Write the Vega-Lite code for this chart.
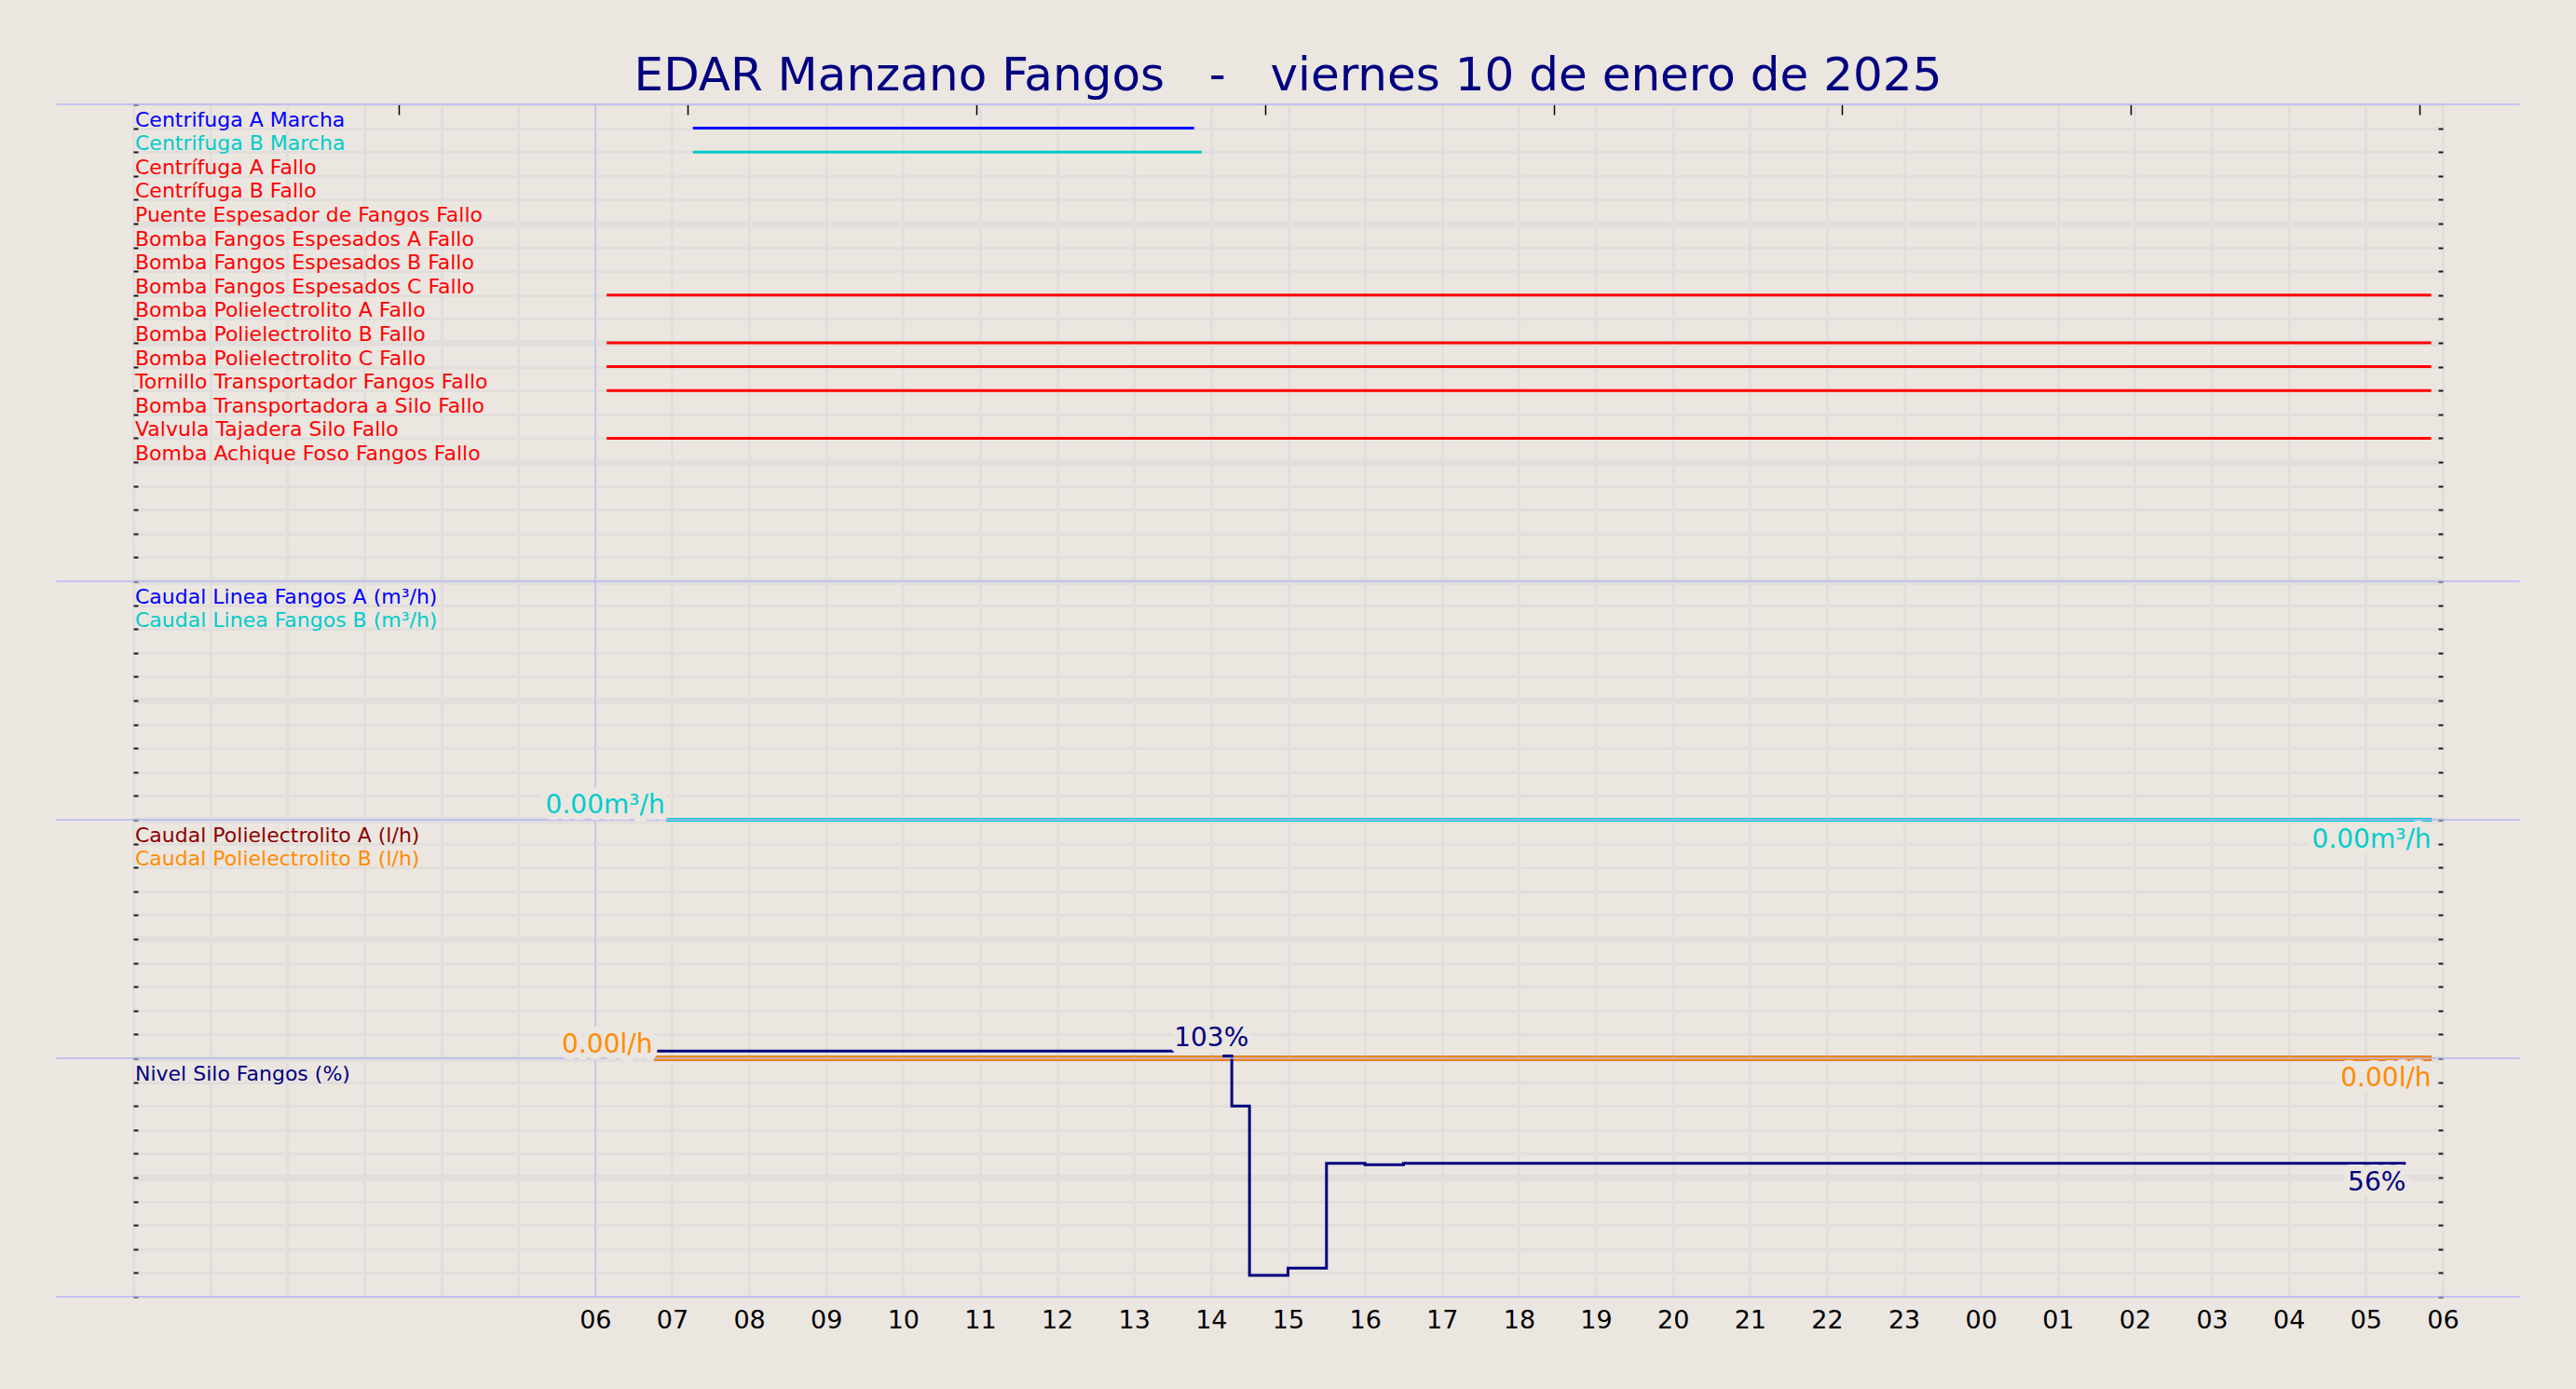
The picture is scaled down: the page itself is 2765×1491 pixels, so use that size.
{
  "$schema": "https://vega.github.io/schema/vega-lite/v6.json",
  "width": 2479,
  "height": 1280,
  "autosize": {"type": "none"},
  "padding": {"left": 143, "top": 112, "right": 143, "bottom": 99},
  "background": "#ebe6e0",
  "config": {"view": {"stroke": null}, "text": {"font": "DejaVu Sans"}},
  "title": {
    "text": "EDAR Manzano Fangos \u00a0 - \u00a0 viernes 10 de enero de 2025",
    "font": "DejaVu Sans", "fontSize": 50, "fontWeight": "normal", "color": "#000080",
    "anchor": "middle", "frame": "group", "baseline": "alphabetic", "offset": 14, "dy": 50
  },
  "datasets": {
    "senales": [
      {"orden": 1, "senal": "Centrifuga A Marcha"},
      {"orden": 2, "senal": "Centrifuga B Marcha"},
      {"orden": 3, "senal": "Centrífuga A Fallo"},
      {"orden": 4, "senal": "Centrífuga B Fallo"},
      {"orden": 5, "senal": "Puente Espesador de Fangos Fallo"},
      {"orden": 6, "senal": "Bomba Fangos Espesados A Fallo"},
      {"orden": 7, "senal": "Bomba Fangos Espesados B Fallo"},
      {"orden": 8, "senal": "Bomba Fangos Espesados C Fallo"},
      {"orden": 9, "senal": "Bomba Polielectrolito A Fallo"},
      {"orden": 10, "senal": "Bomba Polielectrolito B Fallo"},
      {"orden": 11, "senal": "Bomba Polielectrolito C Fallo"},
      {"orden": 12, "senal": "Tornillo Transportador Fangos Fallo"},
      {"orden": 13, "senal": "Bomba Transportadora a Silo Fallo"},
      {"orden": 14, "senal": "Valvula Tajadera Silo Fallo"},
      {"orden": 15, "senal": "Bomba Achique Foso Fangos Fallo"},
      {"orden": 21, "senal": "Caudal Linea Fangos A (m³/h)"},
      {"orden": 22, "senal": "Caudal Linea Fangos B (m³/h)"},
      {"orden": 31, "senal": "Caudal Polielectrolito A (l/h)"},
      {"orden": 32, "senal": "Caudal Polielectrolito B (l/h)"},
      {"orden": 41, "senal": "Nivel Silo Fangos (%)"}
    ],
    "marca": [{"hora": 6}],
    "estados": [
      {"orden": 1, "senal": "Centrifuga A Marcha", "inicio": 7.27, "fin": 13.78},
      {"orden": 2, "senal": "Centrifuga B Marcha", "inicio": 7.27, "fin": 13.88},
      {"orden": 8, "senal": "Bomba Fangos Espesados C Fallo", "inicio": 6.15, "fin": 29.85},
      {"orden": 10, "senal": "Bomba Polielectrolito B Fallo", "inicio": 6.15, "fin": 29.85},
      {"orden": 11, "senal": "Bomba Polielectrolito C Fallo", "inicio": 6.15, "fin": 29.85},
      {"orden": 12, "senal": "Tornillo Transportador Fangos Fallo", "inicio": 6.15, "fin": 29.85},
      {"orden": 14, "senal": "Valvula Tajadera Silo Fallo", "inicio": 6.15, "fin": 29.85}
    ],
    "caudal_fangos": [
      {"senal": "Caudal Linea Fangos A (m³/h)", "inicio": 6.93, "fin": 29.85, "valor": 0},
      {"senal": "Caudal Linea Fangos B (m³/h)", "inicio": 6.93, "fin": 29.85, "valor": 0}
    ],
    "caudal_poli": [
      {"senal": "Caudal Polielectrolito A (l/h)", "inicio": 6.77, "fin": 29.85, "valor": 0},
      {"senal": "Caudal Polielectrolito B (l/h)", "inicio": 6.77, "fin": 29.85, "valor": 0}
    ],
    "nivel_silo": [
      {"senal": "Nivel Silo Fangos (%)", "tramo": 1, "hora": 6.77, "nivel": 103},
      {"senal": "Nivel Silo Fangos (%)", "tramo": 1, "hora": 13.52, "nivel": 103},
      {"senal": "Nivel Silo Fangos (%)", "tramo": 2, "hora": 14.15, "nivel": 101},
      {"senal": "Nivel Silo Fangos (%)", "tramo": 2, "hora": 14.27, "nivel": 80},
      {"senal": "Nivel Silo Fangos (%)", "tramo": 2, "hora": 14.5, "nivel": 9},
      {"senal": "Nivel Silo Fangos (%)", "tramo": 2, "hora": 15.0, "nivel": 12},
      {"senal": "Nivel Silo Fangos (%)", "tramo": 2, "hora": 15.5, "nivel": 56},
      {"senal": "Nivel Silo Fangos (%)", "tramo": 2, "hora": 16.0, "nivel": 55.4},
      {"senal": "Nivel Silo Fangos (%)", "tramo": 2, "hora": 16.5, "nivel": 56},
      {"senal": "Nivel Silo Fangos (%)", "tramo": 2, "hora": 29.52, "nivel": 56}
    ],
    "bordes": [
      {"borde": 0, "desde": -1, "hasta": 31},
      {"borde": 20, "desde": -1, "hasta": 31},
      {"borde": 30, "desde": -1, "hasta": 31},
      {"borde": 40, "desde": -1, "hasta": 31},
      {"borde": 50, "desde": -1, "hasta": 31}
    ],
    "etiquetas": [
      {"senal": "Caudal Linea Fangos B (m³/h)", "extremo": "inicio", "hora": 6.93, "valor": 0, "texto": "0.00m³/h"},
      {"senal": "Caudal Linea Fangos B (m³/h)", "extremo": "fin", "hora": 29.85, "valor": 0, "texto": "0.00m³/h"},
      {"senal": "Caudal Polielectrolito B (l/h)", "extremo": "inicio", "hora": 6.77, "valor": 0, "texto": "0.00l/h"},
      {"senal": "Caudal Polielectrolito B (l/h)", "extremo": "fin", "hora": 29.85, "valor": 0, "texto": "0.00l/h"},
      {"senal": "Nivel Silo Fangos (%)", "extremo": "inicio", "hora": 13.52, "valor": 103, "texto": "103%"},
      {"senal": "Nivel Silo Fangos (%)", "extremo": "fin", "hora": 29.52, "valor": 56, "texto": "56%"}
    ]
  },
  "resolve": {"scale": {"y": "independent"}, "axis": {"x": "independent", "y": "independent"}},
  "layer": [
    {
      "data": {"name": "marca"},
      "mark": {"type": "rule", "color": "#c0c0f4", "strokeWidth": 1.5},
      "encoding": {
        "x": {"field": "hora", "type": "quantitative",
          "scale": {"domain": [0, 30], "nice": false, "zero": false},
          "axis": {"orient": "bottom", "values": [0,1,2,3,4,5,6,7,8,9,10,11,12,13,14,15,16,17,18,19,20,21,22,23,24,25,26,27,28,29,30],
            "grid": true, "gridColor": "#e2dedc", "gridWidth": 3, "ticks": false, "domain": false,
            "labelExpr": "datum.value >= 6 ? ((datum.value % 24) < 10 ? '0' : '') + (datum.value % 24) : ''",
            "labelFont": "DejaVu Sans", "labelFontSize": 27, "labelColor": "#000000", "labelPadding": 12,
            "labelOverlap": false, "labelFlush": false, "title": null}
        }
      }
    },
    {
      "data": {"name": "senales"},
      "mark": {"type": "text", "align": "left", "baseline": "alphabetic", "dx": 2, "dy": -2, "fontSize": 22, "font": "DejaVu Sans"},
      "encoding": {
        "x": {"value": 0},
        "y": {"field": "orden", "type": "quantitative", "scale": {"domain": [0, 50], "reverse": true, "nice": false, "zero": false},
          "axis": {"orient": "left", "values": [0,1,2,3,4,5,6,7,8,9,10,11,12,13,14,15,16,17,18,19,20,21,22,23,24,25,26,27,28,29,30,31,32,33,34,35,36,37,38,39,40,41,42,43,44,45,46,47,48,49,50],
            "grid": true, "gridColor": "#e2dedc",
            "gridWidth": {"condition": {"test": "datum.value % 5 === 0 && datum.value > 0 && datum.value < 50", "value": 7}, "value": 3},
            "ticks": true, "tickSize": -5, "tickWidth": 2, "tickColor": "#1a1a1a", "labels": false, "domain": false, "title": null}},
        "text": {"field": "senal"},
        "color": {"field": "senal", "type": "nominal", "legend": null,
          "scale": {"domain": ["Centrifuga A Marcha","Centrifuga B Marcha","Centrífuga A Fallo","Centrífuga B Fallo","Puente Espesador de Fangos Fallo","Bomba Fangos Espesados A Fallo","Bomba Fangos Espesados B Fallo","Bomba Fangos Espesados C Fallo","Bomba Polielectrolito A Fallo","Bomba Polielectrolito B Fallo","Bomba Polielectrolito C Fallo","Tornillo Transportador Fangos Fallo","Bomba Transportadora a Silo Fallo","Valvula Tajadera Silo Fallo","Bomba Achique Foso Fangos Fallo","Caudal Linea Fangos A (m³/h)","Caudal Linea Fangos B (m³/h)","Caudal Polielectrolito A (l/h)","Caudal Polielectrolito B (l/h)","Nivel Silo Fangos (%)"],
            "range": ["#0000ff","#00cccc","#ff0000","#ff0000","#ff0000","#ff0000","#ff0000","#ff0000","#ff0000","#ff0000","#ff0000","#ff0000","#ff0000","#ff0000","#ff0000","#0000ff","#00cccc","#8b0000","#ff8c00","#000080"]}}
      }
    },
    {
      "data": {"name": "estados"},
      "mark": {"type": "rule", "strokeWidth": 3},
      "encoding": {
        "x": {"field": "inicio", "type": "quantitative",
          "axis": {"orient": "top", "values": [3.45, 7.2, 10.95, 14.7, 18.45, 22.2, 25.95, 29.7],
            "grid": false, "ticks": true, "tickSize": -11, "tickWidth": 1.5, "tickColor": "#000000", "labels": false, "domain": false, "title": null}},
        "x2": {"field": "fin"},
        "y": {"field": "orden", "type": "quantitative", "scale": {"domain": [0, 50], "reverse": true, "nice": false, "zero": false}, "axis": null},
        "color": {"field": "senal", "type": "nominal", "legend": null}
      }
    },
    {
      "data": {"name": "caudal_fangos"},
      "mark": {"type": "rule", "strokeWidth": 4},
      "encoding": {
        "x": {"field": "inicio", "type": "quantitative", "axis": null},
        "x2": {"field": "fin"},
        "y": {"field": "valor", "type": "quantitative", "scale": {"domain": [-20, 30], "nice": false, "zero": false}, "axis": null},
        "color": {"field": "senal", "type": "nominal", "legend": null}
      }
    },
    {
      "data": {"name": "caudal_poli"},
      "mark": {"type": "rule", "strokeWidth": 5},
      "encoding": {
        "x": {"field": "inicio", "type": "quantitative", "axis": null},
        "x2": {"field": "fin"},
        "y": {"field": "valor", "type": "quantitative", "scale": {"domain": [-10, 40], "nice": false, "zero": false}, "axis": null},
        "color": {"field": "senal", "type": "nominal", "legend": null}
      }
    },
    {
      "data": {"name": "nivel_silo"},
      "mark": {"type": "line", "interpolate": "step-after", "strokeWidth": 3},
      "encoding": {
        "x": {"field": "hora", "type": "quantitative", "axis": null},
        "y": {"field": "nivel", "type": "quantitative", "scale": {"domain": [0, 500], "nice": false, "zero": false}, "axis": null},
        "detail": {"field": "tramo", "type": "nominal"},
        "color": {"field": "senal", "type": "nominal", "legend": null}
      }
    },
    {
      "data": {"name": "bordes"},
      "mark": {"type": "rule", "color": "#b6b6f6", "strokeWidth": 1.5},
      "encoding": {
        "x": {"field": "desde", "type": "quantitative", "axis": null},
        "x2": {"field": "hasta"},
        "y": {"field": "borde", "type": "quantitative", "scale": {"domain": [0, 50], "reverse": true, "nice": false, "zero": false},
          "axis": {"orient": "right", "values": [1,2,3,4,5,6,7,8,9,10,11,12,13,14,15,16,17,18,19,20,21,22,23,24,25,26,27,28,29,30,31,32,33,34,35,36,37,38,39,40,41,42,43,44,45,46,47,48,49,50],
            "grid": false, "ticks": true, "tickSize": -5, "tickWidth": 2, "tickColor": "#1a1a1a", "labels": false, "domain": false, "title": null}}
      }
    },
    {
      "data": {"name": "etiquetas"},
      "transform": [{"filter": "datum.extremo === 'inicio' && datum.senal === 'Caudal Linea Fangos B (m³/h)'"}],
      "mark": {"type": "text", "align": "right", "baseline": "alphabetic", "dx": -2, "dy": -7, "fontSize": 28, "color": "#ebe6e0", "stroke": "#ebe6e0", "strokeWidth": 14, "strokeJoin": "round"},
      "encoding": {
        "x": {"field": "hora", "type": "quantitative", "axis": null},
        "y": {"field": "valor", "type": "quantitative", "scale": {"domain": [-20, 30], "nice": false, "zero": false}, "axis": null},
        "text": {"field": "texto"}
      }
    },
    {
      "data": {"name": "etiquetas"},
      "transform": [{"filter": "datum.extremo === 'fin' && datum.senal === 'Caudal Linea Fangos B (m³/h)'"}],
      "mark": {"type": "text", "align": "right", "baseline": "alphabetic", "dx": 0, "dy": 30, "fontSize": 28, "color": "#ebe6e0", "stroke": "#ebe6e0", "strokeWidth": 14, "strokeJoin": "round"},
      "encoding": {
        "x": {"field": "hora", "type": "quantitative", "axis": null},
        "y": {"field": "valor", "type": "quantitative", "scale": {"domain": [-20, 30], "nice": false, "zero": false}, "axis": null},
        "text": {"field": "texto"}
      }
    },
    {
      "data": {"name": "etiquetas"},
      "transform": [{"filter": "datum.extremo === 'inicio' && datum.senal === 'Caudal Polielectrolito B (l/h)'"}],
      "mark": {"type": "text", "align": "right", "baseline": "alphabetic", "dx": -2, "dy": -6, "fontSize": 28, "color": "#ebe6e0", "stroke": "#ebe6e0", "strokeWidth": 14, "strokeJoin": "round"},
      "encoding": {
        "x": {"field": "hora", "type": "quantitative", "axis": null},
        "y": {"field": "valor", "type": "quantitative", "scale": {"domain": [-10, 40], "nice": false, "zero": false}, "axis": null},
        "text": {"field": "texto"}
      }
    },
    {
      "data": {"name": "etiquetas"},
      "transform": [{"filter": "datum.extremo === 'fin' && datum.senal === 'Caudal Polielectrolito B (l/h)'"}],
      "mark": {"type": "text", "align": "right", "baseline": "alphabetic", "dx": 0, "dy": 30, "fontSize": 28, "color": "#ebe6e0", "stroke": "#ebe6e0", "strokeWidth": 14, "strokeJoin": "round"},
      "encoding": {
        "x": {"field": "hora", "type": "quantitative", "axis": null},
        "y": {"field": "valor", "type": "quantitative", "scale": {"domain": [-10, 40], "nice": false, "zero": false}, "axis": null},
        "text": {"field": "texto"}
      }
    },
    {
      "data": {"name": "etiquetas"},
      "transform": [{"filter": "datum.extremo === 'inicio' && datum.senal === 'Nivel Silo Fangos (%)'"}],
      "mark": {"type": "text", "align": "left", "baseline": "alphabetic", "dx": 0, "dy": -5, "fontSize": 28, "color": "#ebe6e0", "stroke": "#ebe6e0", "strokeWidth": 14, "strokeJoin": "round"},
      "encoding": {
        "x": {"field": "hora", "type": "quantitative", "axis": null},
        "y": {"field": "valor", "type": "quantitative", "scale": {"domain": [0, 500], "nice": false, "zero": false}, "axis": null},
        "text": {"field": "texto"}
      }
    },
    {
      "data": {"name": "etiquetas"},
      "transform": [{"filter": "datum.extremo === 'fin' && datum.senal === 'Nivel Silo Fangos (%)'"}],
      "mark": {"type": "text", "align": "right", "baseline": "alphabetic", "dx": 0, "dy": 29, "fontSize": 28, "color": "#ebe6e0", "stroke": "#ebe6e0", "strokeWidth": 14, "strokeJoin": "round"},
      "encoding": {
        "x": {"field": "hora", "type": "quantitative", "axis": null},
        "y": {"field": "valor", "type": "quantitative", "scale": {"domain": [0, 500], "nice": false, "zero": false}, "axis": null},
        "text": {"field": "texto"}
      }
    },
    {
      "data": {"name": "etiquetas"},
      "transform": [{"filter": "datum.extremo === 'inicio' && datum.senal === 'Caudal Linea Fangos B (m³/h)'"}],
      "mark": {"type": "text", "align": "right", "baseline": "alphabetic", "dx": -2, "dy": -7, "fontSize": 28},
      "encoding": {
        "x": {"field": "hora", "type": "quantitative", "axis": null},
        "y": {"field": "valor", "type": "quantitative", "scale": {"domain": [-20, 30], "nice": false, "zero": false}, "axis": null},
        "text": {"field": "texto"},
        "color": {"field": "senal", "type": "nominal", "legend": null}
      }
    },
    {
      "data": {"name": "etiquetas"},
      "transform": [{"filter": "datum.extremo === 'fin' && datum.senal === 'Caudal Linea Fangos B (m³/h)'"}],
      "mark": {"type": "text", "align": "right", "baseline": "alphabetic", "dx": 0, "dy": 30, "fontSize": 28},
      "encoding": {
        "x": {"field": "hora", "type": "quantitative", "axis": null},
        "y": {"field": "valor", "type": "quantitative", "scale": {"domain": [-20, 30], "nice": false, "zero": false}, "axis": null},
        "text": {"field": "texto"},
        "color": {"field": "senal", "type": "nominal", "legend": null}
      }
    },
    {
      "data": {"name": "etiquetas"},
      "transform": [{"filter": "datum.extremo === 'inicio' && datum.senal === 'Caudal Polielectrolito B (l/h)'"}],
      "mark": {"type": "text", "align": "right", "baseline": "alphabetic", "dx": -2, "dy": -6, "fontSize": 28},
      "encoding": {
        "x": {"field": "hora", "type": "quantitative", "axis": null},
        "y": {"field": "valor", "type": "quantitative", "scale": {"domain": [-10, 40], "nice": false, "zero": false}, "axis": null},
        "text": {"field": "texto"},
        "color": {"field": "senal", "type": "nominal", "legend": null}
      }
    },
    {
      "data": {"name": "etiquetas"},
      "transform": [{"filter": "datum.extremo === 'fin' && datum.senal === 'Caudal Polielectrolito B (l/h)'"}],
      "mark": {"type": "text", "align": "right", "baseline": "alphabetic", "dx": 0, "dy": 30, "fontSize": 28},
      "encoding": {
        "x": {"field": "hora", "type": "quantitative", "axis": null},
        "y": {"field": "valor", "type": "quantitative", "scale": {"domain": [-10, 40], "nice": false, "zero": false}, "axis": null},
        "text": {"field": "texto"},
        "color": {"field": "senal", "type": "nominal", "legend": null}
      }
    },
    {
      "data": {"name": "etiquetas"},
      "transform": [{"filter": "datum.extremo === 'inicio' && datum.senal === 'Nivel Silo Fangos (%)'"}],
      "mark": {"type": "text", "align": "left", "baseline": "alphabetic", "dx": 0, "dy": -5, "fontSize": 28},
      "encoding": {
        "x": {"field": "hora", "type": "quantitative", "axis": null},
        "y": {"field": "valor", "type": "quantitative", "scale": {"domain": [0, 500], "nice": false, "zero": false}, "axis": null},
        "text": {"field": "texto"},
        "color": {"field": "senal", "type": "nominal", "legend": null}
      }
    },
    {
      "data": {"name": "etiquetas"},
      "transform": [{"filter": "datum.extremo === 'fin' && datum.senal === 'Nivel Silo Fangos (%)'"}],
      "mark": {"type": "text", "align": "right", "baseline": "alphabetic", "dx": 0, "dy": 29, "fontSize": 28},
      "encoding": {
        "x": {"field": "hora", "type": "quantitative", "axis": null},
        "y": {"field": "valor", "type": "quantitative", "scale": {"domain": [0, 500], "nice": false, "zero": false}, "axis": null},
        "text": {"field": "texto"},
        "color": {"field": "senal", "type": "nominal", "legend": null}
      }
    }
  ]
}
